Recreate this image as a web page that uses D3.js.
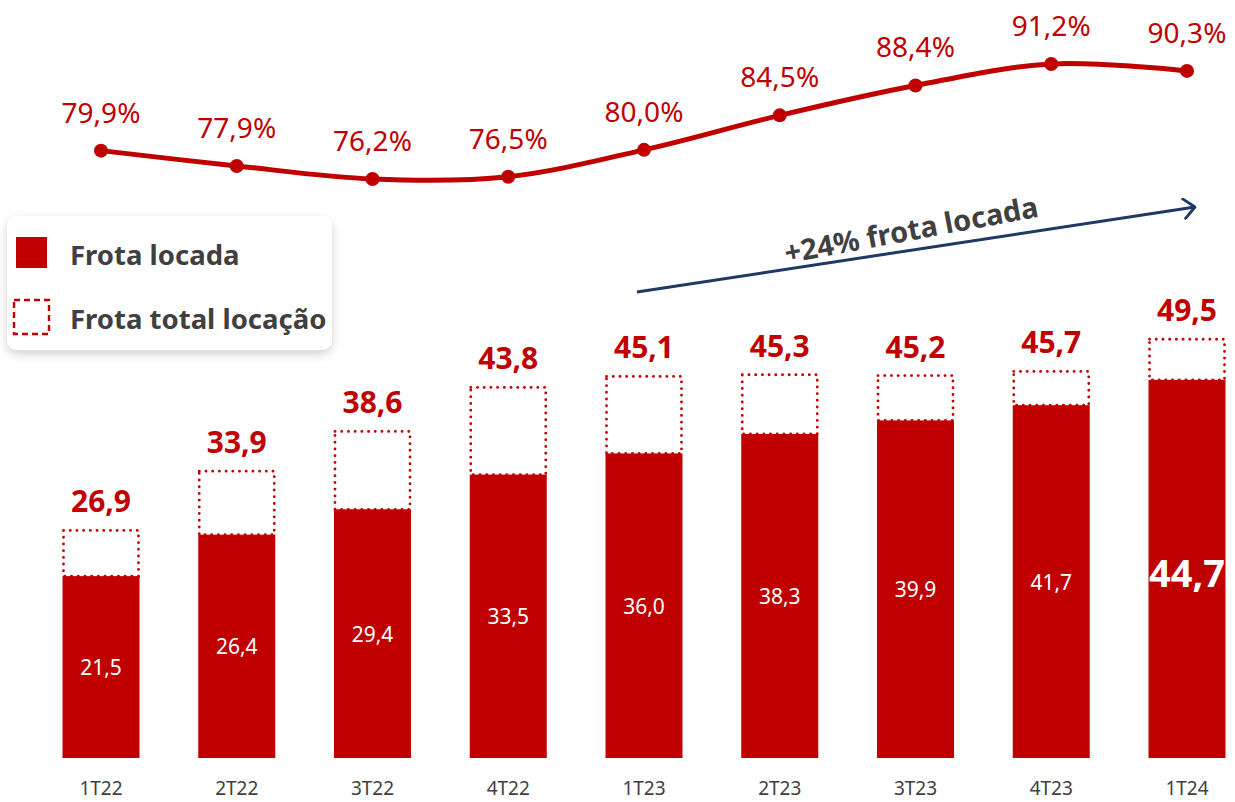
<!DOCTYPE html>
<html>
<head>
<meta charset="utf-8">
<script src="https://cdn.jsdelivr.net/npm/d3@7"></script>
<style>
  body { margin: 0; background: #fff; }
  svg { font-family: "Noto Sans", "Open Sans", sans-serif; }
</style>
</head>
<body>
<div id="chart"></div>
<script>
const width = 1235;
const height = 802;

const quarters = ["1T22", "2T22", "3T22", "4T22", "1T23", "2T23", "3T23", "4T23", "1T24"];
const frotaLocada = [21.5, 26.4, 29.4, 33.5, 36.0, 38.3, 39.9, 41.7, 44.7];
const frotaTotal = [26.9, 33.9, 38.6, 43.8, 45.1, 45.3, 45.2, 45.7, 49.5];
const ocupacao = [79.9, 77.9, 76.2, 76.5, 80.0, 84.5, 88.4, 91.2, 90.3];

const red = "#c00000";
const fmt = v => v.toFixed(1).replace(".", ",");

const svg = d3.select("div#chart").append("svg")
    .attr("width", width)
    .attr("height", height);

const defs = svg.append("defs");
const shadow = defs.append("filter").attr("id", "shadow")
    .attr("x", "-10%").attr("y", "-10%").attr("width", "130%").attr("height", "140%");
shadow.append("feDropShadow")
    .attr("dx", 0).attr("dy", 4).attr("stdDeviation", 5)
    .attr("flood-color", "#000").attr("flood-opacity", 0.18);
defs.append("marker").attr("id", "arrow")
    .attr("viewBox", "0 0 12 20").attr("refX", 11).attr("refY", 10)
    .attr("markerWidth", 14).attr("markerHeight", 22)
    .attr("markerUnits", "userSpaceOnUse")
    .attr("orient", "auto")
    .append("path").attr("d", "M1,1 L11,10 L1,19")
    .attr("fill", "none").attr("stroke", "#1f3864").attr("stroke-width", 2.6)
    .attr("stroke-linecap", "round").attr("stroke-linejoin", "round");

// bar centres
const x = d3.scalePoint().domain(quarters).range([101, 1187]);
const bw = 77;

const y = d3.scaleLinear().domain([0, 50]).range([758, 335]);
const yLine = d3.scaleLinear().domain([76.2, 91.2]).range([179, 64]);

// bars
const bars = svg.append("g");
bars.selectAll("rect.total")
    .data(quarters)
    .join("rect")
    .attr("class", "total")
    .attr("x", d => x(d) - bw / 2 + 1)
    .attr("width", bw - 2)
    .attr("y", (d, i) => y(frotaTotal[i]))
    .attr("height", (d, i) => y(frotaLocada[i]) - y(frotaTotal[i]))
    .attr("fill", "none")
    .attr("stroke", red)
    .attr("stroke-width", 2.8)
    .attr("stroke-linecap", "round")
    .attr("stroke-dasharray", "0.1 6.6");

bars.selectAll("rect.locada")
    .data(quarters)
    .join("rect")
    .attr("class", "locada")
    .attr("x", d => x(d) - bw / 2)
    .attr("width", bw)
    .attr("y", (d, i) => y(frotaLocada[i]))
    .attr("height", (d, i) => y(0) - y(frotaLocada[i]))
    .attr("fill", red);

// total labels
bars.selectAll("text.totLbl")
    .data(quarters)
    .join("text")
    .attr("class", "totLbl")
    .attr("x", d => x(d))
    .attr("y", (d, i) => y(frotaTotal[i]) - 18)
    .attr("text-anchor", "middle")
    .attr("fill", red)
    .attr("font-weight", "bold")
    .attr("font-size", 30)
    .text((d, i) => fmt(frotaTotal[i]));

// inside labels
const last = quarters.length - 1;
bars.selectAll("text.locLbl")
    .data(quarters)
    .join("text")
    .attr("class", "locLbl")
    .attr("x", d => x(d))
    .attr("y", (d, i) => (y(frotaLocada[i]) + y(0)) / 2 + (i === last ? 18 : 8))
    .attr("text-anchor", "middle")
    .attr("fill", "#fff")
    .attr("font-size", (d, i) => i === last ? 38 : 21)
    .attr("font-weight", (d, i) => i === last ? "bold" : "normal")
    .text((d, i) => fmt(frotaLocada[i]));

// x axis labels
svg.append("g").selectAll("text")
    .data(quarters)
    .join("text")
    .attr("x", d => x(d))
    .attr("y", 795)
    .attr("text-anchor", "middle")
    .attr("fill", "#404040")
    .attr("font-size", 19)
    .text(d => d);

// line
const line = d3.line()
    .x(d => x(d[0]))
    .y(d => yLine(d[1]))
    .curve(d3.curveCatmullRom.alpha(0.5));
const pts = quarters.map((q, i) => [q, ocupacao[i]]);
svg.append("path")
    .attr("d", line(pts))
    .attr("fill", "none")
    .attr("stroke", red)
    .attr("stroke-width", 5);
svg.append("g").selectAll("circle")
    .data(pts)
    .join("circle")
    .attr("cx", d => x(d[0]))
    .attr("cy", d => yLine(d[1]))
    .attr("r", 7)
    .attr("fill", red);
svg.append("g").selectAll("text")
    .data(pts)
    .join("text")
    .attr("x", d => x(d[0]))
    .attr("y", d => yLine(d[1]) - 28)
    .attr("text-anchor", "middle")
    .attr("fill", red)
    .attr("font-size", 28)
    .text(d => fmt(d[1]) + "%");

// growth arrow
const ax1 = x("1T23") - 7, ay1 = 292, ax2 = x("1T24") + 8, ay2 = 207;
svg.append("line")
    .attr("x1", ax1).attr("y1", ay1)
    .attr("x2", ax2).attr("y2", ay2)
    .attr("stroke", "#1f3864")
    .attr("stroke-width", 3)
    .attr("marker-end", "url(#arrow)");
svg.append("text")
    .attr("transform", "translate(913,240) rotate(-10.5)")
    .attr("text-anchor", "middle")
    .attr("fill", "#404040")
    .attr("font-weight", "bold")
    .attr("font-size", 29)
    .text("+24% frota locada");

// legend
const lg = svg.append("g");
lg.append("rect")
    .attr("x", 7).attr("y", 216)
    .attr("width", 325).attr("height", 134)
    .attr("rx", 10)
    .attr("fill", "#fff")
    .attr("filter", "url(#shadow)");
lg.append("rect")
    .attr("x", 16).attr("y", 237)
    .attr("width", 31).attr("height", 31)
    .attr("fill", red);
lg.append("rect")
    .attr("x", 14).attr("y", 300)
    .attr("width", 35).attr("height", 34)
    .attr("fill", "none")
    .attr("stroke", red)
    .attr("stroke-width", 2.4)
    .attr("stroke-dasharray", "6 4");
lg.append("text")
    .attr("x", 70).attr("y", 265)
    .attr("fill", "#404040").attr("font-weight", "bold").attr("font-size", 27.5)
    .text("Frota locada");
lg.append("text")
    .attr("x", 70).attr("y", 329)
    .attr("fill", "#404040").attr("font-weight", "bold").attr("font-size", 27.5)
    .text("Frota total locação");
</script>
</body>
</html>
